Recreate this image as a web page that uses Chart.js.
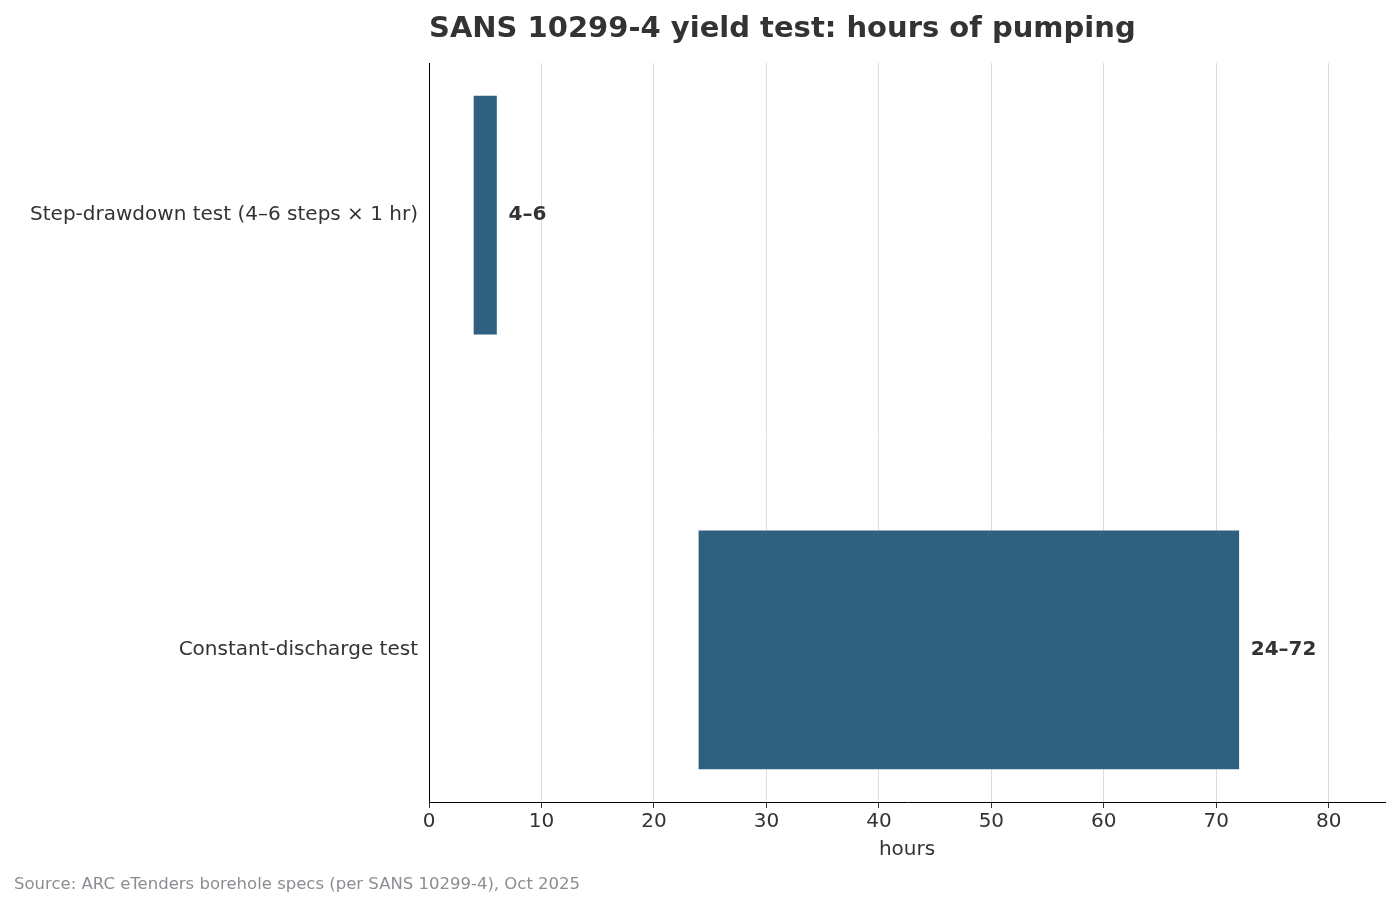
<!DOCTYPE html>
<html><head><meta charset="utf-8">
<script src="https://cdn.jsdelivr.net/npm/chart.js@4"></script>
<style>html,body{margin:0;padding:0;background:#fff}#w{width:1400px;height:900px}</style>
</head><body><div id="w"><canvas id="c"></canvas></div>
<script>
const categories = ["Step-drawdown test (4–6 steps × 1 hr)", "Constant-discharge test"];
const starts = [4, 24];
const ends = [6, 72];
const valueLabels = ["4–6", "24–72"];
const xTicks = [0,10,20,30,40,50,60,70,80];
const FONT = "'DejaVu Sans', sans-serif";
const TXT = "#333333";

const overlay = {
  id: 'overlay',
  afterDatasetsDraw(chart) {
    const ctx = chart.ctx, ca = chart.chartArea;
    ctx.save();
    ctx.fillStyle = TXT;
    ctx.font = "bold 29px " + FONT;
    ctx.textBaseline = 'middle';
    ctx.textAlign = 'left';
    ctx.fillText("SANS 10299-4 yield test: hours of pumping", ca.left, 29);
    ctx.font = "bold 20px " + FONT;
    chart.getDatasetMeta(0).data.forEach((b, i) => {
      ctx.fillText(valueLabels[i], chart.scales.x.getPixelForValue(ends[i]) + 12, chart.scales.y.getPixelForValue(i));
    });
    ctx.font = "16.5px " + FONT;
    ctx.fillStyle = "#8a8d91";
    ctx.fillText("Source: ARC eTenders borehole specs (per SANS 10299-4), Oct 2025", 14, 885);
    ctx.restore();
  }
};

new Chart(document.getElementById('c'), {
  type: 'bar',
  data: { datasets: [{
    data: categories.map((c, i) => ({ x: [starts[i], ends[i]], y: i })),
    backgroundColor: '#2f607f',
    barThickness: 238,
    borderSkipped: false
  }]},
  options: {
    indexAxis: 'y', responsive: true, maintainAspectRatio: false, animation: false,
    layout: { padding: { top: 63, right: 15, left: 0, bottom: 38 } },
    plugins: { legend: { display: false }, tooltip: { enabled: false } },
    scales: {
      x: {
        type: 'linear', min: 0, max: 85,
        afterBuildTicks: s => { s.ticks = xTicks.map(v => ({ value: v })); },
        afterFit: s => { s.height = 60; },
        grid: { color: '#dddddd', drawTicks: true, tickLength: 6, tickColor: TXT },
        border: { color: '#000', width: 1 },
        ticks: { color: TXT, font: { family: FONT, size: 20 }, padding: 2, maxRotation: 0 },
        title: { display: true, text: 'hours', color: TXT, font: { family: FONT, size: 20 }, padding: { top: 2, bottom: 0 } }
      },
      y: {
        type: 'linear', min: -0.35, max: 1.35, reverse: true, offset: false, grace: 0,
        afterBuildTicks: s => { s.ticks = [{ value: 0 }, { value: 1 }]; },
        afterFit: s => { s.width = 429; },
        grid: { display: false, drawTicks: true, tickLength: 5 },
        border: { color: '#000', width: 1 },
        ticks: { color: TXT, font: { family: FONT, size: 20 }, padding: 6, callback: v => categories[v] }
      }
    }
  },
  plugins: [overlay]
});
</script></body></html>
